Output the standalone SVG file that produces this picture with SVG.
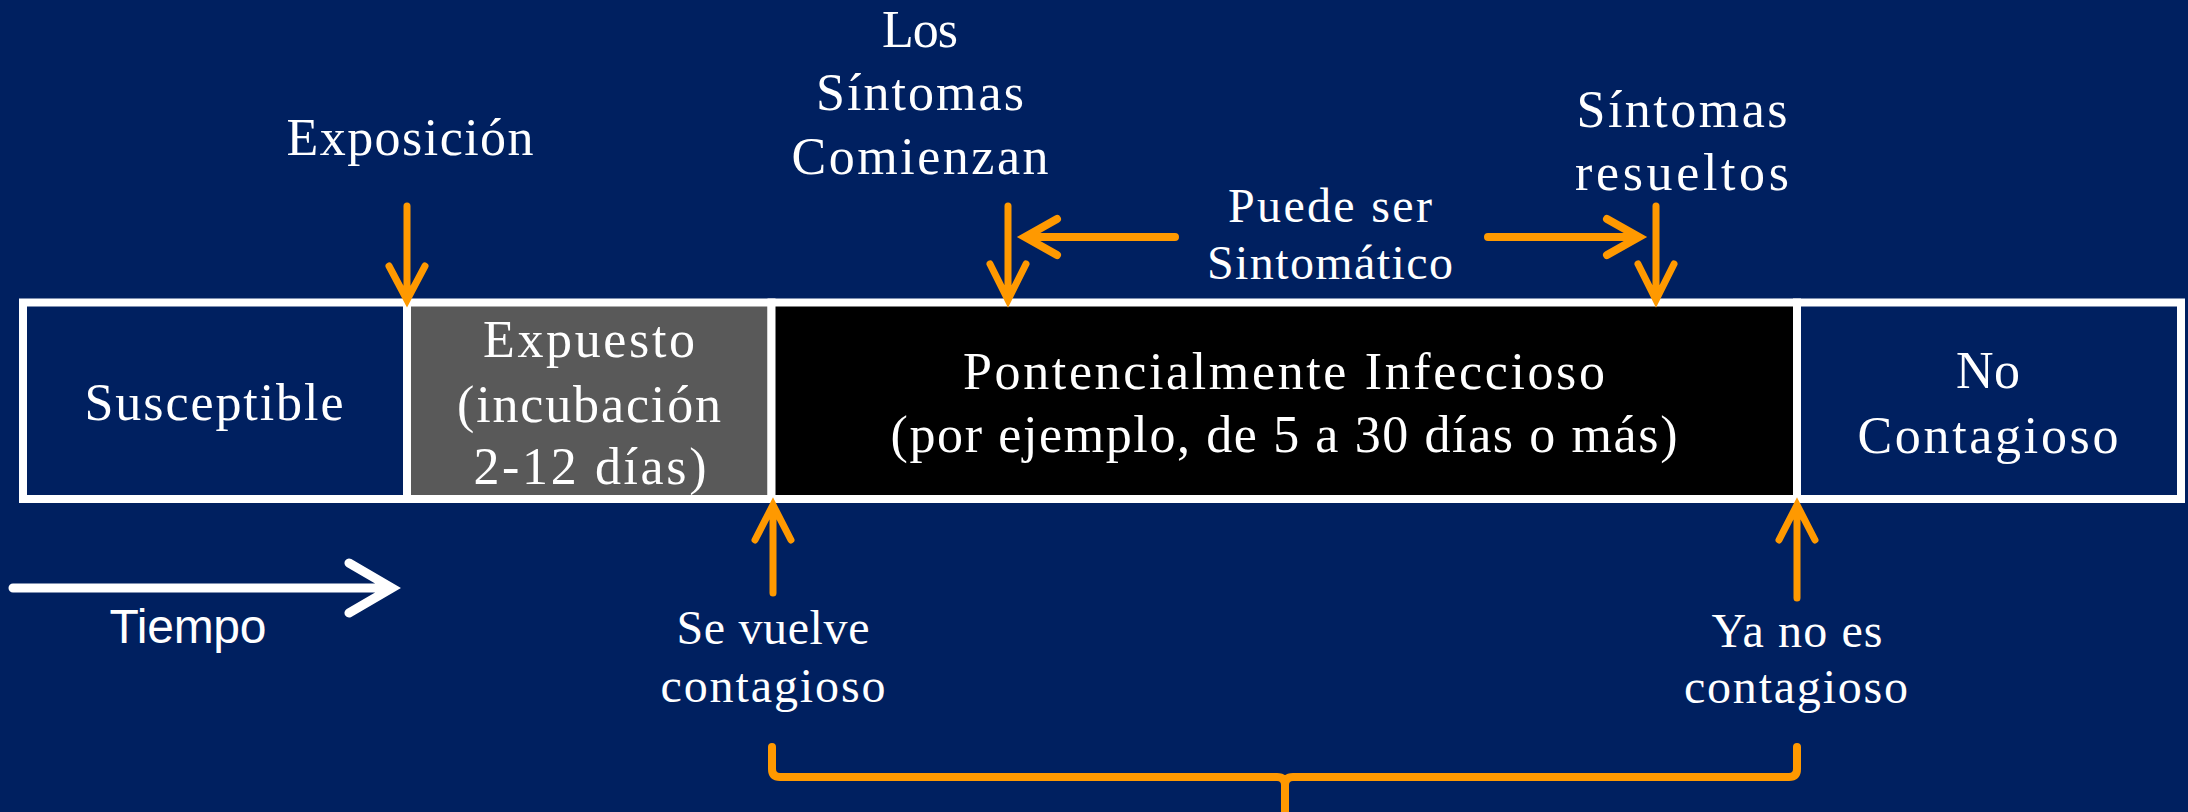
<svg xmlns="http://www.w3.org/2000/svg" width="2188" height="812" viewBox="0 0 2188 812">
<style>
.bg{fill:#002060}
.box{stroke:#FFFFFF;stroke-width:8}
.t{font-family:"Liberation Serif","Times New Roman",serif;fill:#FFFFFF;font-size:52px;text-anchor:middle}
.s{font-size:48px}
.sans{font-family:"Liberation Sans",Arial,sans-serif;fill:#FFFFFF;font-size:48px;text-anchor:middle}
.ar{fill:none;stroke:#FF9900;stroke-width:7;stroke-linecap:round;stroke-linejoin:miter}
.arh{fill:none;stroke:#FF9900;stroke-width:8;stroke-linecap:round;stroke-linejoin:miter}
.wa{fill:none;stroke:#FFFFFF;stroke-width:9;stroke-linecap:round;stroke-linejoin:miter}
</style>
<rect class="bg" x="0" y="0" width="2188" height="812"/>

<g id="susceptible">
<rect class="box" x="23" y="302.5" width="384" height="196.5" fill="#002060"/>
<text class="t" x="214" y="420" textLength="259">Susceptible</text>
</g>
<g id="expuesto">
<rect class="box" x="407" y="302.5" width="364.5" height="196.5" fill="#595959"/>
<text class="t" x="589" y="357" textLength="212">Expuesto</text>
<text class="t" x="589" y="422" textLength="264">(incubación</text>
<text class="t" x="590" y="484" textLength="233">2-12 días)</text>
</g>
<g id="infeccioso">
<rect class="box" x="771.5" y="302.5" width="1025.5" height="196.5" fill="#000000"/>
<text class="t" x="1284" y="389" textLength="642">Pontencialmente Infeccioso</text>
<text class="t" x="1284" y="452" textLength="787">(por ejemplo, de 5 a 30 días o más)</text>
</g>
<g id="no-contagioso">
<rect class="box" x="1797" y="302.5" width="384" height="196.5" fill="#002060"/>
<text class="t" x="1988" y="388" textLength="64">No</text>
<text class="t" x="1988" y="453" textLength="261">Contagioso</text>
</g>

<g id="label-exposicion">
<text class="t" x="410" y="155" textLength="247">Exposición</text>
</g>
<g id="label-sintomas-comienzan">
<text class="t" x="920" y="47" textLength="76">Los</text>
<text class="t" x="920" y="110" textLength="208">Síntomas</text>
<text class="t" x="920" y="174" textLength="257">Comienzan</text>
</g>
<g id="label-sintomas-resueltos">
<text class="t" x="1682" y="127" textLength="211">Síntomas</text>
<text class="t" x="1682" y="190" textLength="214">resueltos</text>
</g>
<g id="label-puede-ser">
<text class="t s" x="1330" y="222" textLength="204">Puede ser</text>
<text class="t s" x="1330" y="279" textLength="246">Sintomático</text>
</g>
<g id="label-se-vuelve">
<text class="t s" x="773" y="644" textLength="193">Se vuelve</text>
<text class="t s" x="773" y="702" textLength="225">contagioso</text>
</g>
<g id="label-ya-no">
<text class="t s" x="1797" y="647" textLength="171">Ya no es</text>
<text class="t s" x="1796" y="703" textLength="224">contagioso</text>
</g>
<g id="tiempo">
<path class="wa" d="M13,588 H390 M349,563 L392,588 L349,613"/>
<text class="sans" x="188" y="643" textLength="157">Tiempo</text>
</g>

<g id="connectors">
<path class="ar" d="M407,206 V299 M389,266 L407,300 L425,266"/>
<path class="ar" d="M1008,206 V299 M990,264 L1008,300 L1026,264"/>
<path class="ar" d="M1656,206 V299 M1638,264 L1656,300 L1674,264"/>
<path class="arh" d="M1175,237 H1027 M1057,219 L1025,237 L1057,255"/>
<path class="arh" d="M1488,237 H1637 M1607,219 L1639,237 L1607,255"/>
<path class="ar" d="M773,593 V506 M755,540 L773,505 L791,540"/>
<path class="ar" d="M1797,598 V506 M1779,540 L1797,505 L1815,540"/>
<path class="arh" fill="none" d="M772,747 V769 Q772,777 780,777 H1277 Q1285,777 1285,785 V812 M1285,785 Q1285,777 1293,777 H1789 Q1797,777 1797,769 V747"/>
</g>
</svg>
